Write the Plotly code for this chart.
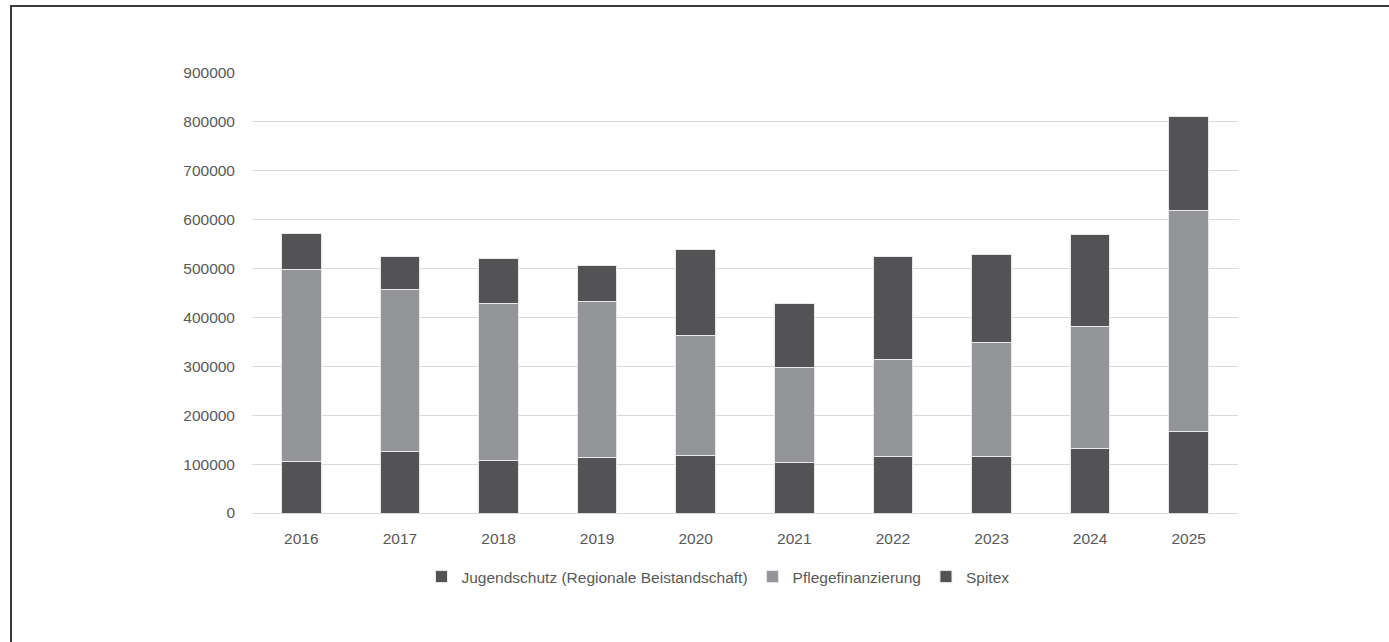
import plotly.graph_objects as go

years = ["2016", "2017", "2018", "2019", "2020", "2021", "2022", "2023", "2024", "2025"]
jugendschutz = [105000, 125000, 108000, 114000, 118000, 103000, 116000, 116000, 131000, 166000]
pflegefinanzierung = [393000, 332000, 321000, 318000, 246000, 195000, 199000, 232000, 251000, 452000]
spitex = [74000, 67000, 91000, 75000, 174000, 130000, 209000, 180000, 188000, 193000]

series_names = ["Jugendschutz (Regionale Beistandschaft)", "Pflegefinanzierung", "Spitex"]
series_values = [jugendschutz, pflegefinanzierung, spitex]
series_colors = ["#535355", "#949598", "#535355"]

y_ticks = [0, 100000, 200000, 300000, 400000, 500000, 600000, 700000, 800000, 900000]

FONT = "Liberation Sans"
TEXT = "#595959"
FS = 15.5

fig = go.Figure()
for name, vals, col in zip(series_names, series_values, series_colors):
    fig.add_trace(go.Bar(
        x=years, y=vals, name=name,
        marker=dict(color=col, line=dict(color="#e8e8e8", width=1)),
    ))

W, H = 1389, 642
L, R, T, B = 252, 151, 73, 129
pw, ph = W - L - R, H - T - B

def px_x(x):
    return (x - L) / pw

def px_y(y):
    return (H - B - y) / ph

fig.update_layout(
    width=W, height=H,
    barmode="stack",
    bargap=0.6,
    margin=dict(l=L, r=R, t=T, b=B, pad=0),
    paper_bgcolor="white",
    plot_bgcolor="white",
    font=dict(family=FONT, size=FS, color=TEXT),
    showlegend=True,
    legend=dict(
        orientation="h",
        traceorder="normal",
        x=px_x(718), xanchor="center",
        y=px_y(577), yanchor="middle",
        font=dict(family=FONT, size=FS, color=TEXT),
        itemwidth=30,
        tracegroupgap=0,
    ),
    xaxis=dict(
        type="category",
        showgrid=False,
        showline=False,
        zeroline=False,
        ticks="",
        ticklabelstandoff=14,
        tickfont=dict(family=FONT, size=FS, color=TEXT),
    ),
    yaxis=dict(
        range=[0, 900000],
        tickvals=y_ticks,
        ticktext=[str(v) for v in y_ticks],
        showgrid=True,
        gridcolor="#d9d9d9",
        gridwidth=1,
        zeroline=True,
        zerolinecolor="#d9d9d9",
        zerolinewidth=1,
        showline=False,
        ticks="",
        ticklabelstandoff=16,
        tickfont=dict(family=FONT, size=FS, color=TEXT),
    ),
    shapes=[dict(
        type="rect", xref="paper", yref="paper",
        x0=px_x(11), x1=px_x(1400),
        y0=px_y(660), y1=px_y(6),
        line=dict(color="#3a3a3a", width=2),
        fillcolor="rgba(0,0,0,0)",
        layer="below",
    )],
)

fig.write_html("out.html")
